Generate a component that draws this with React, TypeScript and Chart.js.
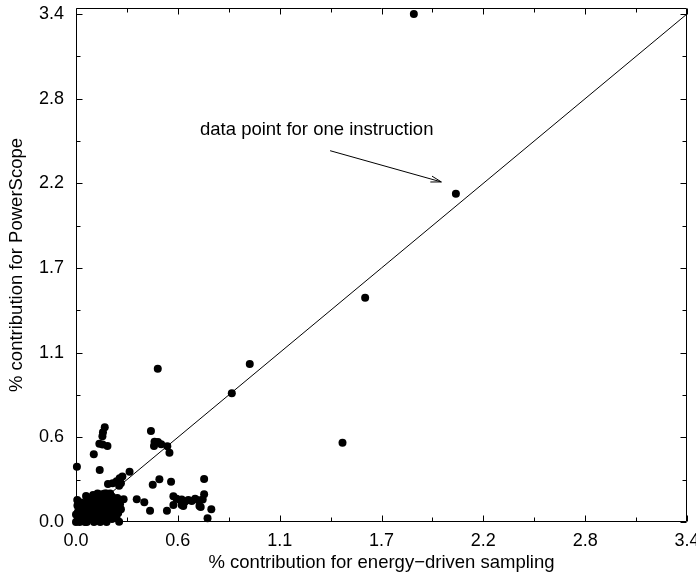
import React, { useEffect, useRef } from "react";
import { Chart, registerables } from "chart.js";

Chart.register(...registerables);

// ---- data ----
const xValues: number[] = [
  // outliers
  1.88, 2.114, 1.609, 1.483, 0.967, 0.867, 0.455,
  // upper-left group
  0.16, 0.15, 0.147, 0.13, 0.148, 0.175, 0.099, 0.005, 0.132,
  // group near 0.45
  0.417, 0.437, 0.456, 0.474, 0.434, 0.508, 0.52,
  // along the line
  0.298, 0.258, 0.243, 0.226, 0.204, 0.178, 0.25, 0.24,
  // scattered middle
  0.464, 0.427, 0.529, 0.713, 0.265, 0.338, 0.38, 0.412, 0.25, 0.245, 0.24, 0.506, 0.056, 0.007,
  // right low group
  0.542, 0.56, 0.579, 0.588, 0.601, 0.607, 0.625, 0.644, 0.663, 0.681, 0.705, 0.713, 0.694, 0.542, 0.588, 0.597, 0.753, 0.732, 0.687,
  // dense blob near origin
  0.0, 0.01, 0.0, 0.02, 0.008, 0.03, 0.02, 0.03, 0.04, 0.05, 0.06, 0.07, 0.08, 0.09, 0.06, 0.08, 0.1, 0.11, 0.12, 0.1,
  0.12, 0.09, 0.11, 0.13, 0.07, 0.14, 0.15, 0.16, 0.17, 0.18, 0.19, 0.2, 0.21, 0.22, 0.2, 0.15, 0.17, 0.18, 0.14, 0.16,
  0.19, 0.21, 0.13, 0.12, 0.2, 0.04, 0.015, 0.045, 0.065, 0.085, 0.105, 0.135, 0.165, 0.185, 0.225, 0.23, 0.095, 0.145,
  0.025, 0.035, 0.055, 0.075, 0.095, 0.115, 0.125, 0.145, 0.155, 0.175, 0.195, 0.205, 0.215, 0.175, 0.105, 0.085,
  0.135, 0.05, 0.01, 0.155, 0.065, 0.235,
];
const yValues: number[] = [
  3.4, 2.197, 1.5, 0.531, 1.058, 0.861, 1.026,
  0.634, 0.6, 0.574, 0.524, 0.518, 0.509, 0.454, 0.37, 0.348,
  0.609, 0.537, 0.535, 0.52, 0.509, 0.507, 0.464,
  0.337, 0.305, 0.292, 0.272, 0.259, 0.254, 0.26, 0.242,
  0.286, 0.25, 0.269, 0.288, 0.152, 0.152, 0.133, 0.076, 0.085, 0.118, 0.002, 0.076, 0.174, 0.147,
  0.172, 0.155, 0.147, 0.15, 0.13, 0.138, 0.147, 0.14, 0.155, 0.145, 0.15, 0.186, 0.1, 0.114, 0.114, 0.107, 0.085, 0.025, 0.107,
  0.0, 0.02, 0.05, 0.08, 0.11, 0.13, 0.0, 0.04, 0.01, 0.03, 0.07, 0.1, 0.13, 0.16, 0.0, 0.02, 0.05, 0.09, 0.12, 0.0,
  0.03, 0.08, 0.15, 0.18, 0.12, 0.06, 0.1, 0.14, 0.19, 0.16, 0.12, 0.08, 0.05, 0.11, 0.17, 0.02, 0.0, 0.04, 0.15, 0.19,
  0.19, 0.14, 0.09, 0.19, 0.02, 0.06, 0.09, 0.1, 0.04, 0.055, 0.12, 0.03, 0.07, 0.09, 0.03, 0.16, 0.18, 0.185,
  0.12, 0.07, 0.11, 0.06, 0.12, 0.06, 0.155, 0.12, 0.05, 0.13, 0.05, 0.12, 0.09, 0.16, 0.17, 0.1,
  0.0, 0.0, 0.065, 0.17, 0.14, 0.06,
];

// reference line y = x
const lineX: number[] = [0, 3.4];
const lineY: number[] = [0, 3.4];

// axes
const xMax = 3.4;
const yMax = 3.44;
const majorTicks: number[] = [0, 0.5667, 1.1333, 1.7, 2.2667, 2.8333, 3.4];
const minorTicks: number[] = [0.2833, 0.85, 1.4167, 1.9833, 2.55, 3.1167];
const tickLabels: string[] = ["0.0", "0.6", "1.1", "1.7", "2.2", "2.8", "3.4"];

const xTitle = "% contribution for energy\u2212driven sampling";
const yTitle = "% contribution for PowerScope";

// annotation (data coordinates)
const noteText = "data point for one instruction";
const noteAt = { x: 0.69, y: 2.59 };
const arrowFrom = { x: 1.414, y: 2.485 };
const arrowTo = { x: 2.033, y: 2.276 };

const FONT = "'Liberation Sans', Arial, Helvetica, sans-serif";

const framePlugin = {
  id: "frameTicks",
  beforeDatasetsDraw(chart: any) {
    const { ctx, chartArea: a, scales } = chart;
    const xs = scales.x;
    const ys = scales.y;
    ctx.save();
    ctx.strokeStyle = "#000";
    ctx.lineWidth = 1;
    const L = Math.round(a.left) + 0.5;
    const R = Math.round(a.right) - 0.5;
    const T = Math.round(a.top) + 0.5;
    const B = Math.round(a.bottom) - 0.5;
    ctx.beginPath();
    ctx.rect(L, T, R - L, B - T);
    const tx = (v: number, len: number) => {
      const p = Math.round(xs.getPixelForValue(v)) + 0.5;
      ctx.moveTo(p, B);
      ctx.lineTo(p, B - len);
      ctx.moveTo(p, T);
      ctx.lineTo(p, T + len);
    };
    const ty = (v: number, len: number) => {
      const p = Math.round(ys.getPixelForValue(v)) + 0.5;
      ctx.moveTo(L, p);
      ctx.lineTo(L + len, p);
      ctx.moveTo(R, p);
      ctx.lineTo(R - len, p);
    };
    majorTicks.forEach((v) => { tx(v, 6); ty(v, 6); });
    minorTicks.forEach((v) => { tx(v, 4); ty(v, 4); });
    ctx.stroke();
    ctx.restore();
  },
  afterDatasetsDraw(chart: any) {
    const { ctx, scales } = chart;
    const xs = scales.x;
    const ys = scales.y;
    ctx.save();
    ctx.fillStyle = "#000";
    ctx.font = `18.5px ${FONT}`;
    ctx.textAlign = "left";
    ctx.textBaseline = "alphabetic";
    ctx.fillText(noteText, xs.getPixelForValue(noteAt.x), ys.getPixelForValue(noteAt.y));
    const x1 = xs.getPixelForValue(arrowFrom.x);
    const y1 = ys.getPixelForValue(arrowFrom.y);
    const x2 = xs.getPixelForValue(arrowTo.x);
    const y2 = ys.getPixelForValue(arrowTo.y);
    const ang = Math.atan2(y2 - y1, x2 - x1);
    const hl = 11;
    const spread = 0.28;
    ctx.strokeStyle = "#000";
    ctx.lineWidth = 1;
    ctx.beginPath();
    ctx.moveTo(x1, y1);
    ctx.lineTo(x2, y2);
    ctx.moveTo(x2 - hl * Math.cos(ang - spread), y2 - hl * Math.sin(ang - spread));
    ctx.lineTo(x2, y2);
    ctx.lineTo(x2 - hl * Math.cos(ang + spread), y2 - hl * Math.sin(ang + spread));
    ctx.stroke();
    ctx.restore();
  },
};

const zeroPad = (s: any) => {
  s.paddingTop = 0;
  s.paddingBottom = 0;
  s.paddingLeft = 0;
  s.paddingRight = 0;
};

export default function App() {
  const canvasRef = useRef<HTMLCanvasElement | null>(null);

  useEffect(() => {
    if (!canvasRef.current) return;
    const points = xValues.map((x, i) => ({ x, y: yValues[i] }));
    const linePts = lineX.map((x, i) => ({ x, y: lineY[i] }));
    const chart = new Chart(canvasRef.current, {
      type: "scatter",
      data: {
        datasets: [
          {
            type: "line",
            data: linePts,
            borderColor: "#000",
            borderWidth: 1,
            pointRadius: 0,
            fill: false,
            clip: false,
          } as any,
          {
            type: "scatter",
            data: points,
            backgroundColor: "#000",
            borderColor: "#000",
            borderWidth: 0,
            pointRadius: 4,
            clip: false,
          } as any,
        ],
      },
      options: {
        responsive: false,
        animation: false,
        devicePixelRatio: 1,
        layout: { padding: { left: 0, top: 8, right: 9, bottom: 0 } },
        plugins: {
          legend: { display: false },
          tooltip: { enabled: false },
        },
        scales: {
          x: {
            type: "linear",
            min: 0,
            max: xMax,
            afterBuildTicks: (s: any) => {
              s.ticks = majorTicks.map((v) => ({ value: v }));
            },
            afterFit: (s: any) => {
              s.height = 53;
              zeroPad(s);
            },
            grid: { display: false, drawTicks: false },
            border: { display: false },
            ticks: {
              autoSkip: false,
              maxRotation: 0,
              padding: 8,
              color: "#000",
              font: { family: FONT, size: 18 },
              callback: (_v: any, i: number) => tickLabels[i],
            },
            title: {
              display: true,
              text: xTitle,
              color: "#000",
              font: { family: FONT, size: 18.5 },
              padding: { top: 0, bottom: 1 },
            },
          },
          y: {
            type: "linear",
            min: 0,
            max: yMax,
            afterBuildTicks: (s: any) => {
              s.ticks = majorTicks.map((v) => ({ value: v }));
            },
            afterFit: (s: any) => {
              s.width = 76;
              zeroPad(s);
            },
            grid: { display: false, drawTicks: false },
            border: { display: false },
            ticks: {
              autoSkip: false,
              padding: 12,
              color: "#000",
              font: { family: FONT, size: 18 },
              callback: (_v: any, i: number) => tickLabels[i],
            },
            title: {
              display: true,
              text: yTitle,
              color: "#000",
              font: { family: FONT, size: 18.5 },
              padding: { top: 6, bottom: 0 },
            },
          },
        },
      },
      plugins: [framePlugin],
    } as any);
    return () => chart.destroy();
  }, []);

  return (
    <div style={{ position: "fixed", left: 0, top: 0, width: 696, height: 575, background: "#fff" }}>
      <canvas ref={canvasRef} width={696} height={575} style={{ display: "block" }} />
    </div>
  );
}
